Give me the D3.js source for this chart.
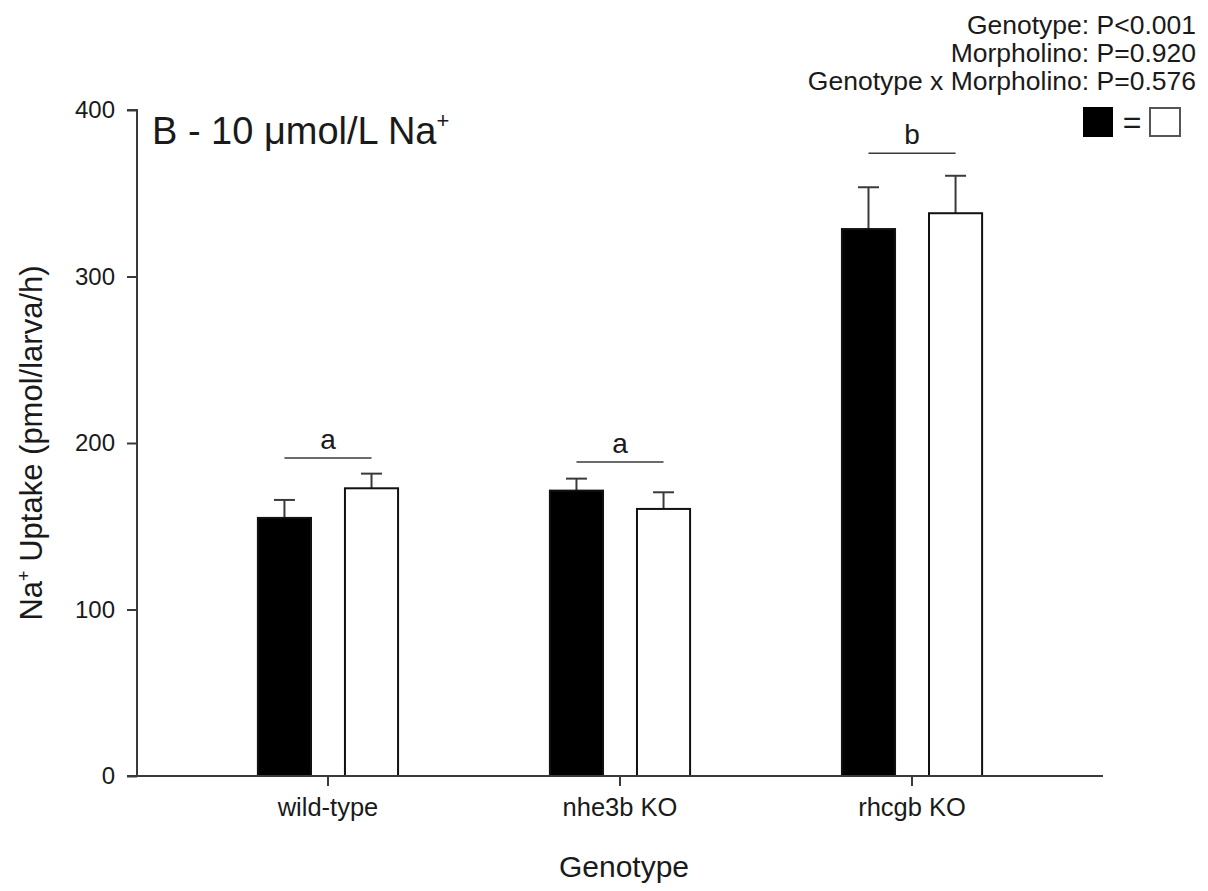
<!DOCTYPE html>
<html>
<head>
<meta charset="utf-8">
<script src="https://cdn.jsdelivr.net/npm/d3@7/dist/d3.min.js"></script>
<style>
  html, body { margin: 0; padding: 0; background: #fff; }
  svg text { font-family: "Liberation Sans", Arial, sans-serif; fill: #1a1a1a; }
</style>
</head>
<body>
<div id="chart"></div>
<script>
const genotypes = ['wild-type', 'nhe3b KO', 'rhcgb KO'];
const groups = ['filled', 'open'];
const meanFilled = [155, 171.4, 328.5];
const errFilled = [10.8, 7.2, 25.1];
const meanOpen = [172.8, 160.4, 338];
const errOpen = [8.8, 10, 22.5];
const sigLetters = ['a', 'a', 'b'];
const sigLevel = [191, 188.6, 374];
const yTicks = [0, 100, 200, 300, 400];
const statLines = ['Genotype: P<0.001', 'Morpholino: P=0.920', 'Genotype x Morpholino: P=0.576'];

const W = 1208, H = 891;
const margin = { top: 110, right: 105, bottom: 115, left: 137 };
const width = W - margin.left - margin.right;
const height = H - margin.top - margin.bottom;
const axisColor = '#3a3a3a';

const svg = d3.select('#chart').append('svg')
  .attr('width', W)
  .attr('height', H);

const g = svg.append('g')
  .attr('transform', `translate(${margin.left},${margin.top})`);

const x0 = d3.scaleBand()
  .domain(genotypes)
  .range([0, width])
  .paddingInner(0)
  .paddingOuter(0.154);

const x1 = d3.scaleBand()
  .domain(groups)
  .range([x0.bandwidth() * 0.26, x0.bandwidth() * 0.74])
  .paddingInner(0.39);

const y = d3.scaleLinear()
  .domain([0, 400])
  .range([height, 0]);

// rows for the bars
const rows = [];
genotypes.forEach((gt, i) => {
  rows.push({ gt, grp: 'filled', mean: meanFilled[i], err: errFilled[i] });
  rows.push({ gt, grp: 'open', mean: meanOpen[i], err: errOpen[i] });
});

const bx = d => x0(d.gt) + x1(d.grp);
const cx = d => bx(d) + x1.bandwidth() / 2;

// error bars (upper only)
g.selectAll('.err')
  .data(rows)
  .enter().append('line')
  .attr('x1', cx).attr('x2', cx)
  .attr('y1', d => y(d.mean)).attr('y2', d => y(d.mean + d.err))
  .attr('stroke', axisColor).attr('stroke-width', 2);

g.selectAll('.cap')
  .data(rows)
  .enter().append('line')
  .attr('x1', d => cx(d) - 10.5).attr('x2', d => cx(d) + 10.5)
  .attr('y1', d => y(d.mean + d.err)).attr('y2', d => y(d.mean + d.err))
  .attr('stroke', axisColor).attr('stroke-width', 2);

g.selectAll('.bar')
  .data(rows)
  .enter().append('rect')
  .attr('x', bx)
  .attr('y', d => y(d.mean))
  .attr('width', x1.bandwidth())
  .attr('height', d => height - y(d.mean))
  .attr('fill', d => d.grp === 'filled' ? '#000' : '#fff')
  .attr('stroke', '#111')
  .attr('stroke-width', 2);

// significance lines + letters
genotypes.forEach((gt, i) => {
  const xa = x0(gt) + x1('filled') + x1.bandwidth() / 2;
  const xb = x0(gt) + x1('open') + x1.bandwidth() / 2;
  g.append('line')
    .attr('x1', xa).attr('x2', xb)
    .attr('y1', y(sigLevel[i])).attr('y2', y(sigLevel[i]))
    .attr('stroke', axisColor).attr('stroke-width', 1.5);
  g.append('text')
    .attr('x', (xa + xb) / 2)
    .attr('y', y(sigLevel[i]) - 9)
    .attr('text-anchor', 'middle')
    .style('font-size', '28px')
    .text(sigLetters[i]);
});

// axes
const yAxis = g.append('g')
  .call(d3.axisLeft(y).tickValues(yTicks).tickSize(10).tickPadding(12));
yAxis.selectAll('text').style('font-size', '24px').attr('fill', '#1a1a1a');

const xAxis = g.append('g')
  .attr('transform', `translate(0,${height})`)
  .call(d3.axisBottom(x0).tickSize(10).tickPadding(12).tickSizeOuter(0));
xAxis.selectAll('text').style('font-size', '25.5px').attr('fill', '#1a1a1a');

[yAxis, xAxis].forEach(a => {
  a.select('.domain').attr('stroke', axisColor).attr('stroke-width', 2);
  a.selectAll('.tick line').attr('stroke', axisColor).attr('stroke-width', 2);
});
yAxis.select('.domain').attr('d', `M-10,${height}H0V0H-10`);
xAxis.select('.domain').attr('d', `M0,0H${width}`);

// axis titles
const yl = svg.append('text')
  .attr('transform', `translate(42,${margin.top + height / 2}) rotate(-90)`)
  .attr('text-anchor', 'middle')
  .style('font-size', '31px');
yl.append('tspan').text('Na');
yl.append('tspan').attr('dy', -12).style('font-size', '18px').text('+');
yl.append('tspan').attr('dy', 12).text(' Uptake (pmol/larva/h)');

svg.append('text')
  .attr('x', margin.left + width / 2 + 4)
  .attr('y', 877)
  .attr('text-anchor', 'middle')
  .style('font-size', '30px')
  .text('Genotype');

// panel title
const t = svg.append('text')
  .attr('x', 152)
  .attr('y', 144)
  .style('font-size', '38px');
t.append('tspan').text('B - 10 \u03bcmol/L Na');
t.append('tspan').attr('dy', -16).style('font-size', '22px').text('+');

// stats block
svg.append('g').selectAll('text')
  .data(statLines)
  .enter().append('text')
  .attr('x', 1196)
  .attr('y', (d, i) => 34 + i * 28)
  .attr('text-anchor', 'end')
  .style('font-size', '26.5px')
  .text(d => d);

// legend: filled = open
const leg = svg.append('g').attr('transform', 'translate(1083,107)');
leg.append('rect').attr('x', 1).attr('y', 1).attr('width', 28).attr('height', 28)
  .attr('fill', '#000').attr('stroke', '#000').attr('stroke-width', 2);
leg.append('text').attr('x', 49).attr('y', 26).attr('text-anchor', 'middle')
  .style('font-size', '32px').text('=');
leg.append('rect').attr('x', 67).attr('y', 1).attr('width', 30).attr('height', 28)
  .attr('fill', '#fff').attr('stroke', '#555').attr('stroke-width', 2);
</script>
</body>
</html>
